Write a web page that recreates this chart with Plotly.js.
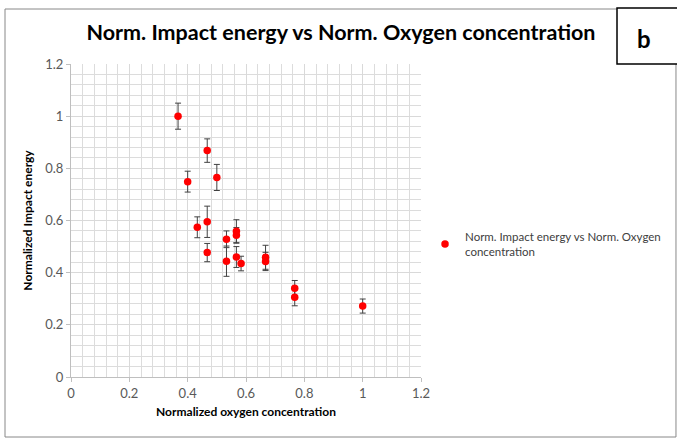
<!DOCTYPE html>
<html>
<head>
<meta charset="utf-8">
<script src="https://cdn.plot.ly/plotly-3.0.1.min.js"></script>
<style>
html,body{margin:0;padding:0;background:#fff;}
#chart{width:677px;height:438px;}
</style>
</head>
<body>
<div id="chart"></div>
<script>
// Normalized oxygen concentration (x)
const oxygenConc = [0.367, 0.467, 0.4, 0.5, 0.433, 0.467, 0.467, 0.533, 0.533, 0.567, 0.567, 0.567, 0.583, 0.667, 0.667, 0.767, 0.767, 1.0];
// Normalized impact energy (y)
const impactEnergy = [1.0, 0.868, 0.749, 0.765, 0.574, 0.595, 0.477, 0.528, 0.444, 0.559, 0.543, 0.46, 0.435, 0.459, 0.443, 0.34, 0.306, 0.272];
// Error bar half-widths
const impactErr = [0.05, 0.045, 0.04, 0.05, 0.04, 0.06, 0.035, 0.032, 0.058, 0.044, 0.03, 0.04, 0.028, 0.046, 0.035, 0.03, 0.033, 0.027];

const seriesName = 'Norm. Impact energy vs Norm. Oxygen<br>concentration';
const chartTitle = 'Norm. Impact energy vs Norm. Oxygen concentration';
const xTitle = 'Normalized oxygen concentration';
const yTitle = 'Normalized Impact energy';
const panelLabel = 'b';

const FONT = 'Lato, Calibri, "Liberation Sans", sans-serif';

const trace = {
  x: oxygenConc,
  y: impactEnergy,
  type: 'scatter',
  mode: 'markers',
  name: seriesName,
  marker: {color: '#ff0000', size: 7.5, line: {width: 0}},
  error_y: {type: 'data', array: impactErr, visible: true, color: '#404040', thickness: 1, width: 3}
};

const axisCommon = {
  range: [0, 1.2],
  dtick: 0.2,
  showgrid: true,
  gridcolor: '#d9d9d9',
  gridwidth: 1,
  zeroline: false,
  showline: true,
  linecolor: '#bfbfbf',
  linewidth: 1,
  ticks: 'outside',
  ticklen: 4,
  tickcolor: '#bfbfbf',
  tickfont: {family: FONT, size: 13, color: '#595959'},
  minor: {dtick: 0.04, showgrid: true, gridcolor: '#dcdcdc', gridwidth: 1},
  fixedrange: true
};

// paper spans px 71..677 horizontally (width 606), 64..377 vertically (height 313)
const layout = {
  width: 677,
  height: 438,
  margin: {l: 71, r: 0, t: 64, b: 61},
  paper_bgcolor: '#ffffff',
  plot_bgcolor: '#ffffff',
  font: {family: FONT, color: '#404040'},
  title: {
    text: '<b>' + chartTitle + '</b>',
    font: {family: FONT, size: 21.5, color: '#000000'},
    x: 0.4455, xref: 'paper', xanchor: 'center',
    y: 1.085, yref: 'paper', yanchor: 'middle'
  },
  xaxis: Object.assign({}, axisCommon, {
    domain: [0, 0.5776],
    title: {text: '<b>' + xTitle + '</b>', font: {family: FONT, size: 12, color: '#000000'}, standoff: 8}
  }),
  yaxis: Object.assign({}, axisCommon, {
    title: {text: '<b>' + yTitle + '</b>', font: {family: FONT, size: 12, color: '#000000'}, standoff: 10}
  }),
  showlegend: true,
  legend: {
    x: 0.5842, xanchor: 'left',
    y: 0.425, yanchor: 'middle',
    font: {family: FONT, size: 11.5, color: '#404040'},
    itemwidth: 30,
    bgcolor: 'rgba(0,0,0,0)'
  },
  shapes: [
    {type: 'rect', xref: 'paper', yref: 'paper', x0: -0.1089, x1: 0.9983, y0: -0.1917, y1: 1.1757,
     line: {color: '#888888', width: 1}, fillcolor: 'rgba(0,0,0,0)', layer: 'below'},
    {type: 'rect', xref: 'paper', yref: 'paper', x0: 0.901, x1: 1.01, y0: 1.0, y1: 1.179,
     line: {color: '#000000', width: 1.5}, fillcolor: '#ffffff'}
  ],
  annotations: [
    {text: '<b>' + panelLabel + '</b>', xref: 'paper', yref: 'paper', x: 0.9455, y: 1.083,
     xanchor: 'center', yanchor: 'middle', showarrow: false,
     font: {family: FONT, size: 24, color: '#000000'}}
  ]
};

Plotly.newPlot('chart', [trace], layout, {displayModeBar: false, staticPlot: true});
</script>
</body>
</html>
